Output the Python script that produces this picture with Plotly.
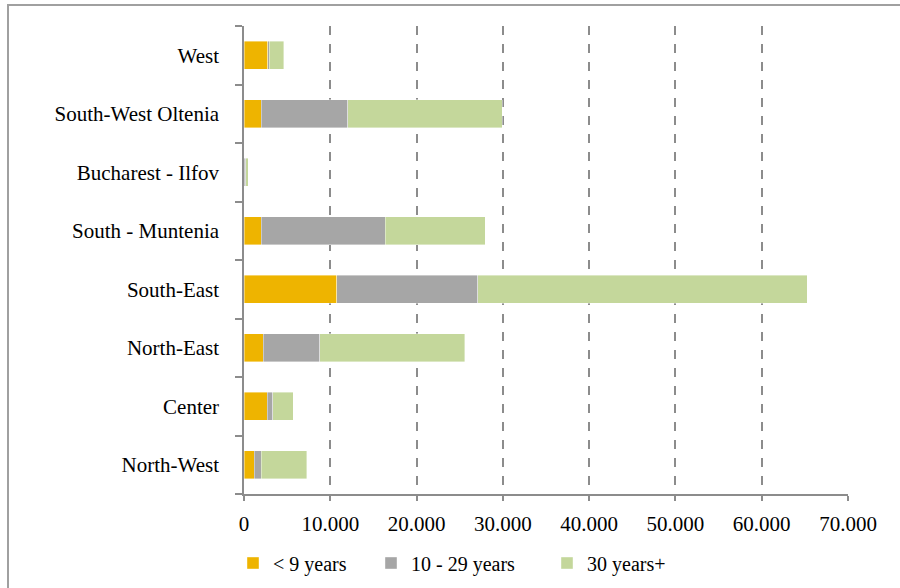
import plotly.graph_objects as go

regions = ["North-West", "Center", "North-East", "South-East",
           "South - Muntenia", "Bucharest - Ilfov", "South-West Oltenia", "West"]
under_9 = [1160, 2700, 2240, 10740, 2000, 30, 2000, 2750]
y10_29 = [840, 620, 6530, 16370, 14370, 170, 10050, 150]
y30_plus = [5260, 2390, 16800, 38160, 11590, 300, 17880, 1730]
series_names = ["< 9 years", "10 - 29 years", "30 years+"]
colors = ["#EEB400", "#A6A6A6", "#C4D79B"]
x_ticks = [0, 10000, 20000, 30000, 40000, 50000, 60000, 70000]

W, H = 900, 588
L, R, T, B = 244, 52, 26, 94
pw, ph = W - L - R, H - T - B

def px_x(p):
    return (p - L) / pw

def px_y(p):
    return (H - B - p) / ph

FAMILY = "Liberation Serif"
font = dict(family=FAMILY, size=21, color="black")

fig = go.Figure()
legend_names = ["legend", "legend2", "legend3"]
for name, vals, col, lg in zip(series_names, [under_9, y10_29, y30_plus], colors, legend_names):
    fig.add_trace(go.Bar(
        y=regions, x=vals, name=name, orientation="h",
        marker=dict(color=col, line=dict(color="rgba(255,255,255,0.5)", width=0.8)),
        legend=lg,
    ))

leg_x = [246, 384, 560]
common_leg = dict(orientation="h", yanchor="middle", xanchor="left",
                  font=dict(family=FAMILY, size=20, color="black"),
                  bgcolor="rgba(0,0,0,0)", borderwidth=0,
                  itemwidth=30)
fig.update_layout(
    legend=dict(x=px_x(leg_x[0] - 13), y=px_y(563), **common_leg),
    legend2=dict(x=px_x(leg_x[1] - 13), y=px_y(563), **common_leg),
    legend3=dict(x=px_x(leg_x[2] - 13), y=px_y(563), **common_leg),
)

fig.update_layout(
    barmode="stack",
    bargap=0.52,
    width=W, height=H,
    margin=dict(l=L, r=R, t=T, b=B, autoexpand=False),
    paper_bgcolor="white",
    plot_bgcolor="white",
    font=font,
    separators=",.",
    showlegend=True,
    xaxis=dict(
        range=[0, 70000],
        tickvals=x_ticks,
        tickformat=",.0f",
        tickfont=dict(family=FAMILY, size=21, color="black"),
        showgrid=True,
        gridcolor="#8C8C8C",
        griddash="dash",
        gridwidth=1.5,
        zeroline=False,
        showline=True,
        linecolor="#8C8C8C",
        linewidth=1.5,
        ticks="outside",
        ticklen=5,
        tickcolor="#8C8C8C",
        tickwidth=1.5,
        ticklabelstandoff=5,
        automargin=False,
        fixedrange=True,
    ),
    yaxis=dict(
        type="category",
        categoryorder="array",
        categoryarray=regions,
        range=[-0.5, 7.5],
        tickfont=dict(family=FAMILY, size=21, color="black"),
        showgrid=False,
        zeroline=False,
        showline=True,
        linecolor="#8C8C8C",
        linewidth=1.5,
        ticks="outside",
        tickson="boundaries",
        ticklen=7,
        tickcolor="#8C8C8C",
        tickwidth=1.5,
        ticklabelstandoff=19,
        automargin=False,
        fixedrange=True,
    ),
    shapes=[dict(
        type="rect", xref="paper", yref="paper",
        x0=px_x(8), x1=px_x(905), y0=px_y(5), y1=px_y(595),
        line=dict(color="#A0A0A0", width=2), fillcolor="rgba(0,0,0,0)",
        layer="below",
    )],
)

fig.write_html("out.html")
